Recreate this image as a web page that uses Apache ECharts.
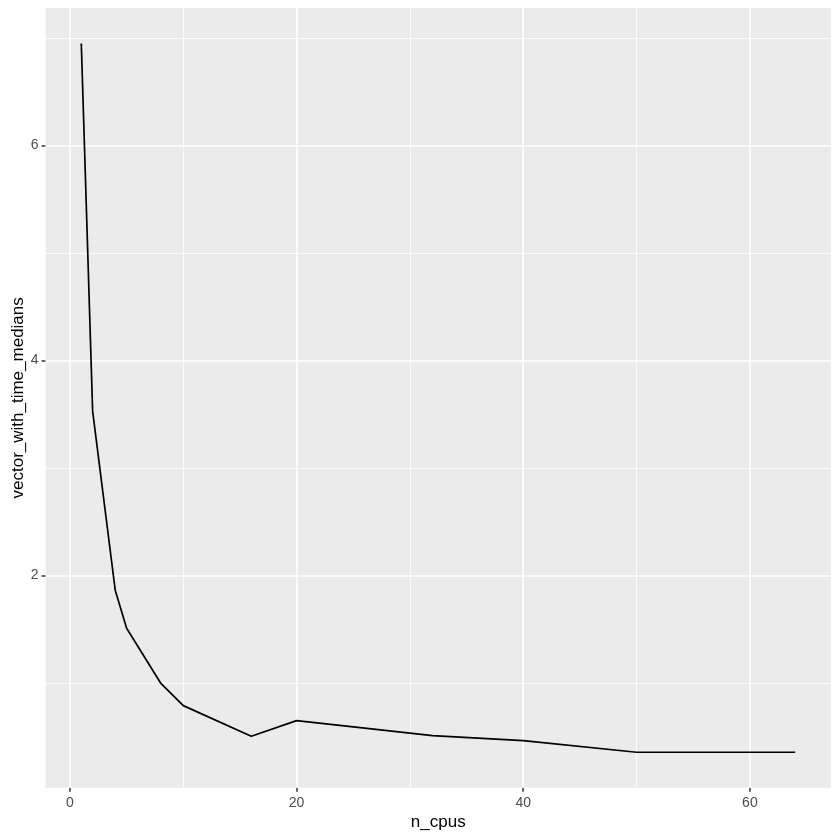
<!DOCTYPE html>
<html>
<head>
<meta charset="utf-8">
<script src="https://cdn.jsdelivr.net/npm/echarts@6/dist/echarts.min.js"></script>
<style>
html,body{margin:0;padding:0;background:#fff;}
#c{width:840px;height:840px;}
</style>
</head>
<body>
<div id="c"></div>
<script>
// Data
var nCpus = [1, 2, 4, 5, 8, 10, 16, 20, 32, 40, 50, 64];
var timeMedians = [6.95, 3.53, 1.86, 1.51, 1.00, 0.79, 0.505, 0.65, 0.51, 0.464, 0.356, 0.356];

// Tick / grid values
var xMajor = [0, 20, 40, 60];
var xMinor = [10, 30, 50];
var yMajor = [2, 4, 6];
var yMinor = [1, 3, 5, 7];

var xTitle = 'n_cpus';
var yTitle = 'vector_with_time_medians';

// ggplot-style 5% expansion of the data range
function expand(arr) {
  var lo = Math.min.apply(null, arr), hi = Math.max.apply(null, arr);
  var d = (hi - lo) * 0.05;
  return [lo - d, hi + d];
}
var xr = expand(nCpus), yr = expand(timeMedians);

var FONT = 'Liberation Sans';
var majorW = 1.7, minorW = 0.85;

var gridLines = [];
xMinor.forEach(function (v) { gridLines.push({ xAxis: v, lineStyle: { color: '#fff', width: minorW, type: 'solid' } }); });
yMinor.forEach(function (v) { gridLines.push({ yAxis: v, lineStyle: { color: '#fff', width: minorW, type: 'solid' } }); });
xMajor.forEach(function (v) { gridLines.push({ xAxis: v, lineStyle: { color: '#fff', width: majorW, type: 'solid' } }); });
yMajor.forEach(function (v) { gridLines.push({ yAxis: v, lineStyle: { color: '#fff', width: majorW, type: 'solid' } }); });

var chart = echarts.init(document.getElementById('c'), null, { renderer: 'canvas' });
chart.setOption({
  animation: false,
  backgroundColor: '#ffffff',
  textStyle: { fontFamily: FONT },
  grid: {
    left: 45.6, right: 9.1, top: 8, bottom: 52.3,
    show: true, backgroundColor: '#EBEBEB', borderWidth: 0,
    containLabel: false,
    outerBoundsMode: 'none'
  },
  xAxis: {
    type: 'value',
    min: xr[0], max: xr[1],
    splitNumber: 4,
    name: xTitle,
    nameLocation: 'middle',
    nameGap: 26,
    nameMoveOverlap: false,
    nameTextStyle: { color: '#000', fontSize: 17, fontFamily: FONT },
    axisLine: { show: false, onZero: false },
    axisTick: { show: true, customValues: xMajor, length: 4, lineStyle: { color: '#333333', width: 1.5 } },
    axisLabel: { customValues: xMajor, color: '#4D4D4D', fontSize: 14, margin: 8, fontFamily: FONT },
    splitLine: { show: false },
    minorSplitLine: { show: false }
  },
  yAxis: {
    type: 'value',
    min: yr[0], max: yr[1],
    splitNumber: 4,
    name: yTitle,
    nameLocation: 'middle',
    nameGap: 19,
    nameMoveOverlap: false,
    nameRotate: 90,
    nameTextStyle: { color: '#000', fontSize: 17, fontFamily: FONT },
    axisLine: { show: false, onZero: false },
    axisTick: { show: true, customValues: yMajor, length: 4, lineStyle: { color: '#333333', width: 1.5 } },
    axisLabel: { customValues: yMajor, color: '#4D4D4D', fontSize: 14, margin: 7, fontFamily: FONT },
    splitLine: { show: false },
    minorSplitLine: { show: false }
  },
  series: [
    {
      type: 'line',
      data: [],
      silent: true,
      markLine: {
        silent: true,
        z: 1,
        symbol: ['none', 'none'],
        label: { show: false },
        emphasis: { disabled: true },
        animation: false,
        data: gridLines
      }
    },
    {
      type: 'line',
      z: 10,
      data: nCpus.map(function (x, i) { return [x, timeMedians[i]]; }),
      showSymbol: false,
      symbol: 'none',
      lineStyle: { color: '#000000', width: 1.7 },
      itemStyle: { color: '#000000' },
      silent: true
    }
  ]
});
</script>
</body>
</html>
